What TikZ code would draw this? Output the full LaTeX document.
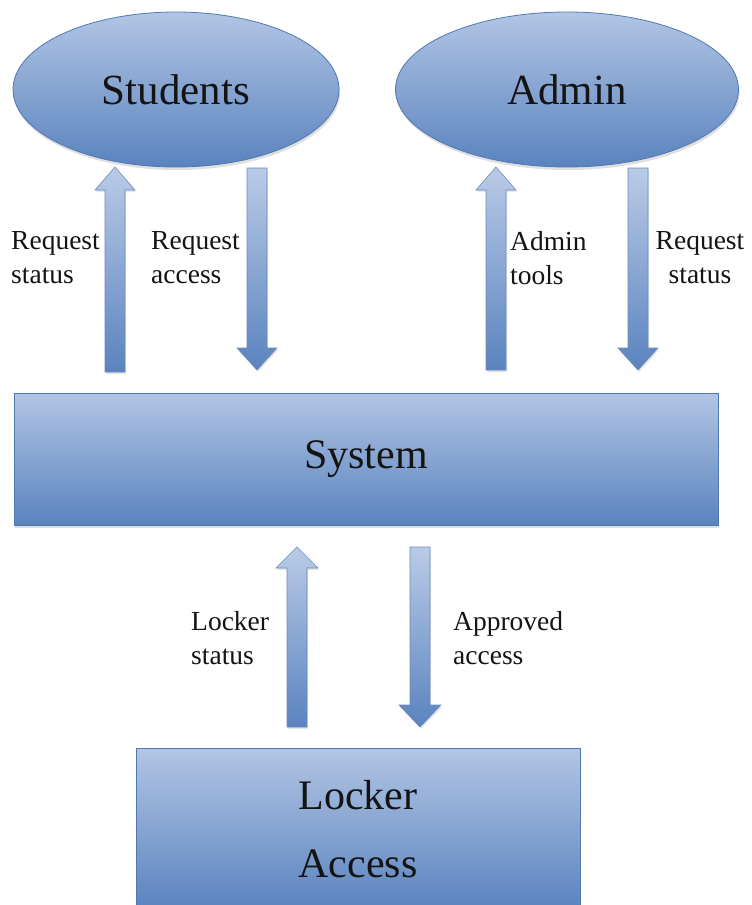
\documentclass[tikz,border=0pt]{standalone}
\usepackage{fontspec}
\setmainfont{Liberation Serif}
\usetikzlibrary{shapes.geometric,shadows}
\definecolor{lightb}{HTML}{B2C5E4}
\definecolor{darkb}{HTML}{5A83BF}
\definecolor{edgeb}{HTML}{5079B3}
\definecolor{inkc}{HTML}{141414}
\tikzset{
  shade/.style={drop shadow={opacity=0.25, shadow xshift=1pt, shadow yshift=-3pt}},
  blob/.style={ellipse, draw=edgeb, line width=0.8pt, top color=lightb, bottom color=darkb,
    inner sep=0pt, text=inkc, font=\fontsize{43}{50}\selectfont, shade},
  box/.style={rectangle, draw=edgeb, line width=0.8pt, top color=lightb, bottom color=darkb,
    inner sep=0pt, align=center, text=inkc, font=\fontsize{42}{68}\selectfont, shade},
  blockarrow/.style={draw=edgeb!85, line width=0.6pt, top color=lightb!90!white, bottom color=darkb,
    drop shadow={opacity=0.2, shadow xshift=1pt, shadow yshift=-2pt}},
  lbl/.style={font=\fontsize{27.5}{34}\selectfont, text=inkc, align=left, inner sep=0pt, anchor=west},
  lblc/.style={font=\fontsize{27.5}{34}\selectfont, text=inkc, align=center, inner sep=0pt},
}
\begin{document}
\begin{tikzpicture}[x=1pt,y=-1pt]
\useasboundingbox (0,0) rectangle (752,905);
\clip (0,0) rectangle (752,905);
\fill[white] (0,0) rectangle (752,905);

% top actors
\node[blob, minimum width=326pt, minimum height=155pt] (students) at (176,89.5) {Students};
\node[blob, minimum width=343pt, minimum height=155pt] (admin) at (567,89.5) {Admin};

% system and locker
\node[box, minimum width=704pt, minimum height=132pt] (system) at (366,459) {System};
\node[box, minimum width=444pt, minimum height=162pt] (locker) at (358,829) {Locker\\Access};

% block arrows: students
\draw[blockarrow] (105,372) -- (105,190) -- (95,190) -- (115,167) -- (135,190) -- (125,190) -- (125,372) -- cycle;
\draw[blockarrow] (247,168) -- (247,348) -- (237,348) -- (257,370) -- (277,348) -- (267,348) -- (267,168) -- cycle;
% admin
\draw[blockarrow] (486,370) -- (486,190) -- (476,190) -- (496,167) -- (516,190) -- (506,190) -- (506,370) -- cycle;
\draw[blockarrow] (628,168) -- (628,348) -- (618,348) -- (638,370) -- (658,348) -- (648,348) -- (648,168) -- cycle;
% locker
\draw[blockarrow] (287,727) -- (287,568) -- (276,568) -- (297,547) -- (318,568) -- (307,568) -- (307,727) -- cycle;
\draw[blockarrow] (410,547) -- (410,705) -- (399,705) -- (420,727) -- (441,705) -- (430,705) -- (430,547) -- cycle;

% labels
\node[lbl] (l1) at (11,258) {Request\\status};
\node[lbl] (l2) at (151,258) {Request\\access};
\node[lbl] (l3) at (510,258) {Admin\\tools};
\node[lblc] (l4) at (700,258) {Request\\status};
\node[lbl] (l5) at (191,638) {Locker\\status};
\node[lbl] (l6) at (453,638) {Approved\\access};
\end{tikzpicture}
\end{document}
